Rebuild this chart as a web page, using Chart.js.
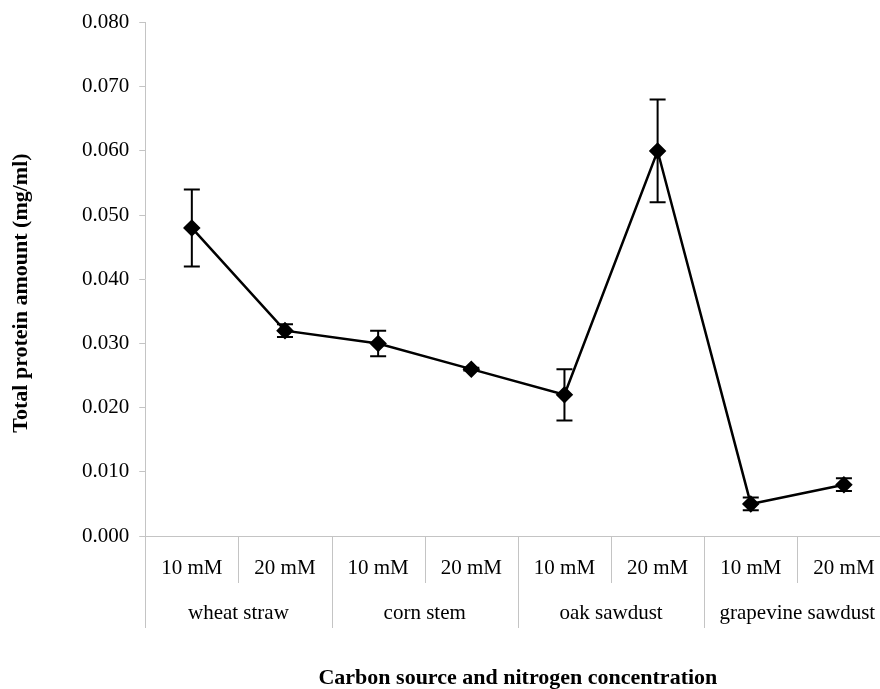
<!DOCTYPE html>
<html>
<head>
    <title>Total protein amount</title>
    <style>
        body {
            margin: 0;
            background-color: #ffffff;
            overflow: hidden;
        }
        #wrap {
            width: 900px;
            height: 689px;
        }
    </style>
</head>
<body>
    <div id="wrap">
        <canvas id="proteinChart" width="900" height="689"></canvas>
    </div>

    <script src="https://cdn.jsdelivr.net/npm/chart.js"></script>
    <script>
        // values
        var categories = ['10 mM', '20 mM', '10 mM', '20 mM', '10 mM', '20 mM', '10 mM', '20 mM'];
        var groups = ['wheat straw', 'corn stem', 'oak sawdust', 'grapevine sawdust'];
        var protein = [0.048, 0.032, 0.030, 0.026, 0.022, 0.060, 0.005, 0.008];
        var errors = [0.006, 0.001, 0.002, 0.0002, 0.004, 0.008, 0.001, 0.001];
        var yTicks = [0, 0.01, 0.02, 0.03, 0.04, 0.05, 0.06, 0.07, 0.08];

        var axisGray = '#c4c4c4';
        var serif = "'Liberation Serif', 'Times New Roman', serif";

        // error bars drawn under the markers
        var errorBars = {
            id: 'errorBars',
            beforeDatasetsDraw: function (chart) {
                var ctx = chart.ctx;
                var x = chart.scales.x;
                var y = chart.scales.y;
                ctx.save();
                ctx.strokeStyle = '#000';
                ctx.lineWidth = 2;
                for (var i = 0; i < protein.length; i++) {
                    var px = x.getPixelForValue(i);
                    var top = y.getPixelForValue(protein[i] + errors[i]);
                    var bot = y.getPixelForValue(protein[i] - errors[i]);
                    ctx.beginPath();
                    ctx.moveTo(px, top);
                    ctx.lineTo(px, bot);
                    ctx.moveTo(px - 8, top);
                    ctx.lineTo(px + 8, top);
                    ctx.moveTo(px - 8, bot);
                    ctx.lineTo(px + 8, bot);
                    ctx.stroke();
                }
                ctx.restore();
            }
        };

        // two-row category axis (concentration / carbon source)
        var groupAxis = {
            id: 'groupAxis',
            afterDraw: function (chart) {
                var ctx = chart.ctx;
                var x = chart.scales.x;
                var base = chart.chartArea.bottom;
                var row1 = base + 47;
                var row2 = base + 92;
                var step = x.getPixelForValue(1) - x.getPixelForValue(0);
                ctx.save();
                ctx.strokeStyle = axisGray;
                ctx.lineWidth = 1;
                ctx.beginPath();
                for (var i = 0; i <= categories.length; i++) {
                    var sx = Math.round(x.getPixelForValue(i) - step / 2) + 0.5;
                    ctx.moveTo(sx, base);
                    ctx.lineTo(sx, i % 2 === 0 ? row2 : row1);
                }
                ctx.stroke();

                ctx.fillStyle = '#000';
                ctx.font = '21px ' + serif;
                ctx.textAlign = 'center';
                ctx.textBaseline = 'middle';
                for (var j = 0; j < categories.length; j++) {
                    ctx.fillText(categories[j], x.getPixelForValue(j), base + 32);
                }
                for (var g = 0; g < groups.length; g++) {
                    var gx = (x.getPixelForValue(2 * g) + x.getPixelForValue(2 * g + 1)) / 2;
                    ctx.fillText(groups[g], gx, base + 77);
                }
                ctx.restore();
            }
        };

        new Chart(document.getElementById('proteinChart'), {
            type: 'line',
            data: {
                labels: categories,
                datasets: [{
                    data: protein,
                    borderColor: '#000',
                    backgroundColor: '#000',
                    borderWidth: 2.5,
                    pointStyle: 'rectRot',
                    pointRadius: 7,
                    pointHoverRadius: 7,
                    tension: 0
                }]
            },
            options: {
                responsive: false,
                animation: false,
                devicePixelRatio: 1,
                layout: {
                    padding: { top: 10, left: 10, right: 0, bottom: 0 }
                },
                plugins: {
                    legend: { display: false },
                    tooltip: { enabled: false }
                },
                scales: {
                    x: {
                        type: 'category',
                        offset: true,
                        grid: { display: false },
                        border: { color: axisGray, width: 1 },
                        ticks: { display: false },
                        title: {
                            display: true,
                            text: 'Carbon source and nitrogen concentration',
                            color: '#000',
                            font: { family: serif, size: 22, weight: 'bold', lineHeight: 1 },
                            padding: { top: 123, bottom: 0 }
                        }
                    },
                    y: {
                        min: 0,
                        max: 0.08,
                        afterBuildTicks: function (axis) {
                            axis.ticks = yTicks.map(function (v) { return { value: v }; });
                        },
                        grid: {
                            drawOnChartArea: false,
                            drawTicks: true,
                            tickLength: 6,
                            color: axisGray
                        },
                        border: { color: axisGray, width: 1 },
                        ticks: {
                            color: '#000',
                            padding: 10,
                            font: { family: serif, size: 21 },
                            callback: function (v) { return Number(v).toFixed(3); }
                        },
                        title: {
                            display: true,
                            // trailing spaces nudge the rotated title down like the original
                            text: 'Total protein amount (mg/ml)     ',
                            color: '#000',
                            font: { family: serif, size: 22, weight: 'bold', lineHeight: 1 },
                            padding: { top: 0, bottom: 40 }
                        }
                    }
                }
            },
            plugins: [errorBars, groupAxis]
        });
    </script>
</body>
</html>
